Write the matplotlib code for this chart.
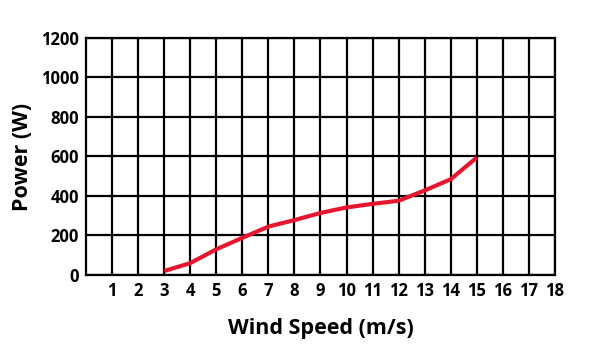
"""Wind turbine power curve."""
import matplotlib

matplotlib.use("Agg")
import matplotlib.pyplot as plt

wind_speed = [3, 4, 5, 6, 7, 8, 9, 10, 11, 12, 13, 14, 15]
power = [20, 60, 130, 188, 245, 278, 314, 342, 360, 376, 428, 485, 595]
x_ticks = list(range(1, 19))
y_ticks = [0, 200, 400, 600, 800, 1000, 1200]

plt.rcParams["font.family"] = ["Open Sans", "DejaVu Sans"]

fig = plt.figure(figsize=(6, 3.55), dpi=100)
ax = fig.add_axes([0.1433, 0.2254, 0.7817, 0.6676])

ax.set_xlim(0, 18)
ax.set_ylim(0, 1200)
ax.set_xticks(x_ticks)
ax.set_yticks(y_ticks)
ax.grid(True, color="black", lw=1.6)
ax.set_axisbelow(True)
for s in ax.spines.values():
    s.set_linewidth(1.6)
ax.tick_params(length=0, labelsize=12, pad=5)
for lab in ax.get_xticklabels() + ax.get_yticklabels():
    lab.set_fontweight("bold")

ax.plot(wind_speed, power, color="#e5172f", lw=3, solid_capstyle="butt", zorder=3)

ax.set_xlabel("Wind Speed (m/s)", fontsize=15.5, fontweight="bold", labelpad=13)
ax.set_ylabel("Power (W)", fontsize=15.5, fontweight="bold", labelpad=6)

fig.savefig("out.png", dpi=100)
